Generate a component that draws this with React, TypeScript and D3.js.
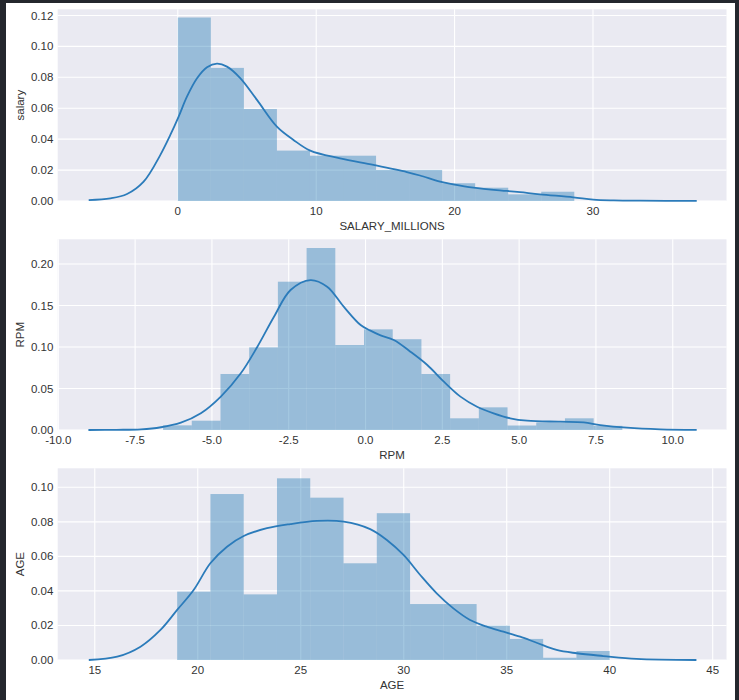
import React from 'react';
import * as d3 from 'd3';

// histogram heights (density), equal-width bins over the given range
const salaryRange = [0, 28.65];
const salaryHist = [0.1187, 0.0861, 0.0595, 0.0326, 0.0293, 0.0293, 0.0201, 0.0201, 0.0115, 0.0086, 0.0043, 0.006];
const salaryKde: [number, number][] = [
  [-6.44, 0.0006], [-4.87, 0.0017], [-3.67, 0.0045], [-2.47, 0.0125], [-1.26, 0.0298], [-0.54, 0.0427],
  [0.06, 0.0546], [0.66, 0.0675], [1.39, 0.0794], [2.11, 0.0865], [2.83, 0.0888], [3.55, 0.0869],
  [4.51, 0.0795], [5.72, 0.0654], [7.16, 0.0481], [8.36, 0.0395], [9.57, 0.0326], [11.73, 0.0276],
  [14.14, 0.0233], [16.55, 0.0187], [17.5, 0.0165], [18.95, 0.0125], [19.9, 0.0108], [21.36, 0.0087],
  [23.77, 0.0065], [24.73, 0.0057], [26.17, 0.0043], [28.58, 0.0024], [30.02, 0.0009], [31.5, 0.0004],
  [33.4, 0.0002], [37.5, 0.0001],
];
const salaryXTicks = [0, 10, 20, 30];
const salaryYTicks = [0, 0.02, 0.04, 0.06, 0.08, 0.1, 0.12];

const rpmRange = [-6.59, 8.36];
const rpmHist = [0.0056, 0.0112, 0.0675, 0.0996, 0.1787, 0.2193, 0.1024, 0.1213, 0.1094, 0.0675, 0.0141, 0.0273, 0.0054, 0.0092, 0.0141, 0.005];
const rpmKde: [number, number][] = [
  [-9.02, 0], [-8.1, 0.0002], [-7.31, 0.0008], [-6.66, 0.0033], [-6.01, 0.0088], [-5.36, 0.0201],
  [-4.71, 0.0402], [-4.06, 0.0683], [-3.52, 0.1004], [-2.98, 0.1365], [-2.44, 0.1687], [-1.79, 0.1807],
  [-1.25, 0.1727], [-0.71, 0.1486], [-0.16, 0.1265], [0.16, 0.1197], [0.49, 0.114], [0.92, 0.1084],
  [1.46, 0.0944], [2.01, 0.0783], [2.55, 0.0582], [3.09, 0.0402], [3.63, 0.0281], [4.17, 0.0201],
  [4.71, 0.0141], [5.26, 0.0112], [6.34, 0.01], [7.1, 0.0092], [7.64, 0.006], [8.51, 0.0028],
  [9.59, 0.0008], [10.78, 0.0001],
];
const rpmXTicks = [-10, -7.5, -5, -2.5, 0, 2.5, 5, 7.5, 10];
const rpmYTicks = [0, 0.05, 0.1, 0.15, 0.2];

const ageRange = [19, 40];
const ageHist = [0.0396, 0.0961, 0.038, 0.1052, 0.094, 0.056, 0.085, 0.0324, 0.0324, 0.0199, 0.0122, 0.0013, 0.0052];
const ageKde: [number, number][] = [
  [14.71, 0], [16.09, 0.0019], [17.22, 0.0077], [18.19, 0.0174], [19.0, 0.029], [19.8, 0.0405],
  [20.61, 0.056], [21.42, 0.0656], [22.23, 0.0718], [23.36, 0.0763], [24.49, 0.0787], [25.79, 0.0805],
  [27.08, 0.0801], [28.37, 0.0758], [29.18, 0.0695], [29.99, 0.0608], [30.8, 0.0492], [31.6, 0.0386],
  [32.41, 0.0299], [33.22, 0.0232], [34.03, 0.0193], [34.84, 0.0164], [35.65, 0.0135], [36.45, 0.01],
  [37.42, 0.0058], [38.4, 0.0039], [39.69, 0.0023], [41.3, 0.0006], [44.21, 0],
];
const ageXTicks = [15, 20, 25, 30, 35, 40, 45];
const ageYTicks = [0, 0.02, 0.04, 0.06, 0.08, 0.1];

const W = 739;
const H = 700;
const FONT = '"Liberation Sans", Arial, sans-serif';
const LEFT = 57.7;
const RIGHT = 726.5;

// d3.format gives a unicode minus; matplotlib here shows a plain hyphen
const fmt = (spec: string) => {
  const f = d3.format(spec);
  return (v: number) => f(v).replace('\u2212', '-');
};

const panels = [
  { top: 9.3, bottom: 201, xDom: [-8.68, 39.65], yMax: 0.124, range: salaryRange, hist: salaryHist, kde: salaryKde,
    xTicks: salaryXTicks, yTicks: salaryYTicks, xFmt: fmt('d'), yFmt: fmt('.2f'), xLabel: 'SALARY_MILLIONS', yLabel: 'salary' },
  { top: 239.3, bottom: 430, xDom: [-10.02, 11.75], yMax: 0.2298, range: rpmRange, hist: rpmHist, kde: rpmKde,
    xTicks: rpmXTicks, yTicks: rpmYTicks, xFmt: fmt('.1f'), yFmt: fmt('.2f'), xLabel: 'RPM', yLabel: 'RPM' },
  { top: 468.3, bottom: 660, xDom: [13.2, 45.67], yMax: 0.111, range: ageRange, hist: ageHist, kde: ageKde,
    xTicks: ageXTicks, yTicks: ageYTicks, xFmt: fmt('d'), yFmt: fmt('.2f'), xLabel: 'AGE', yLabel: 'AGE' },
];

const Panel = ({ p }: { p: typeof panels[number] }) => {
  const x = d3.scaleLinear().domain(p.xDom).range([LEFT, RIGHT]);
  const y = d3.scaleLinear().domain([0, p.yMax]).range([p.bottom, p.top]);
  const n = p.hist.length;
  const bw = (p.range[1] - p.range[0]) / n;
  const line = d3.line<[number, number]>()
    .x(d => x(d[0]))
    .y(d => Math.min(p.bottom, y(d[1])))
    .curve(d3.curveCatmullRom.alpha(0.5));
  const midY = (p.top + p.bottom) / 2;
  const midX = (LEFT + RIGHT) / 2;

  return (
    <g>
      <rect x={LEFT} y={p.top} width={RIGHT - LEFT} height={p.bottom - p.top} fill="#eaeaf2" />
      {p.yTicks.map(t => (
        <line key={'gy' + t} x1={LEFT} x2={RIGHT} y1={y(t)} y2={y(t)} stroke="#fff" strokeWidth={1.1} />
      ))}
      {p.xTicks.map(t => (
        <line key={'gx' + t} x1={x(t)} x2={x(t)} y1={p.top} y2={p.bottom} stroke="#fff" strokeWidth={1.1} />
      ))}
      {p.hist.map((h, i) => {
        const x0 = x(p.range[0] + i * bw);
        const x1 = x(p.range[0] + (i + 1) * bw);
        return (
          <rect key={'b' + i} x={x0} y={y(h)} width={x1 - x0} height={p.bottom - y(h)}
            fill="#1f77b4" fillOpacity={0.4} />
        );
      })}
      <path d={line(p.kde) || ''} fill="none" stroke="#2b7bba" strokeWidth={1.8} />
      {p.yTicks.map(t => (
        <text key={'ty' + t} x={53.3} y={y(t)} dy="0.35em" textAnchor="end" fontSize={11.5}
          fontFamily={FONT} fill="#333">{p.yFmt(t)}</text>
      ))}
      {p.xTicks.map(t => (
        <text key={'tx' + t} x={x(t)} y={p.bottom + 14} textAnchor="middle" fontSize={11.5}
          fontFamily={FONT} fill="#333">{p.xFmt(t)}</text>
      ))}
      <text x={midX} y={p.bottom + 29} textAnchor="middle" fontSize={11.5} fontFamily={FONT} fill="#333">
        {p.xLabel}
      </text>
      <text transform={`translate(24,${midY}) rotate(-90)`} textAnchor="middle" fontSize={11.5}
        fontFamily={FONT} fill="#333">{p.yLabel}</text>
    </g>
  );
};

export default function App() {
  return (
    <div style={{ position: 'fixed', left: 0, top: 0, width: W, height: H }}>
      <svg width={W} height={H} viewBox={`0 0 ${W} ${H}`} style={{ display: 'block' }}>
        <rect x={0} y={0} width={W} height={H} fill="#24272d" />
        <rect x={6} y={3} width={729} height={H - 3} fill="#ffffff" />
        {panels.map((p, i) => <Panel key={i} p={p} />)}
      </svg>
    </div>
  );
}
